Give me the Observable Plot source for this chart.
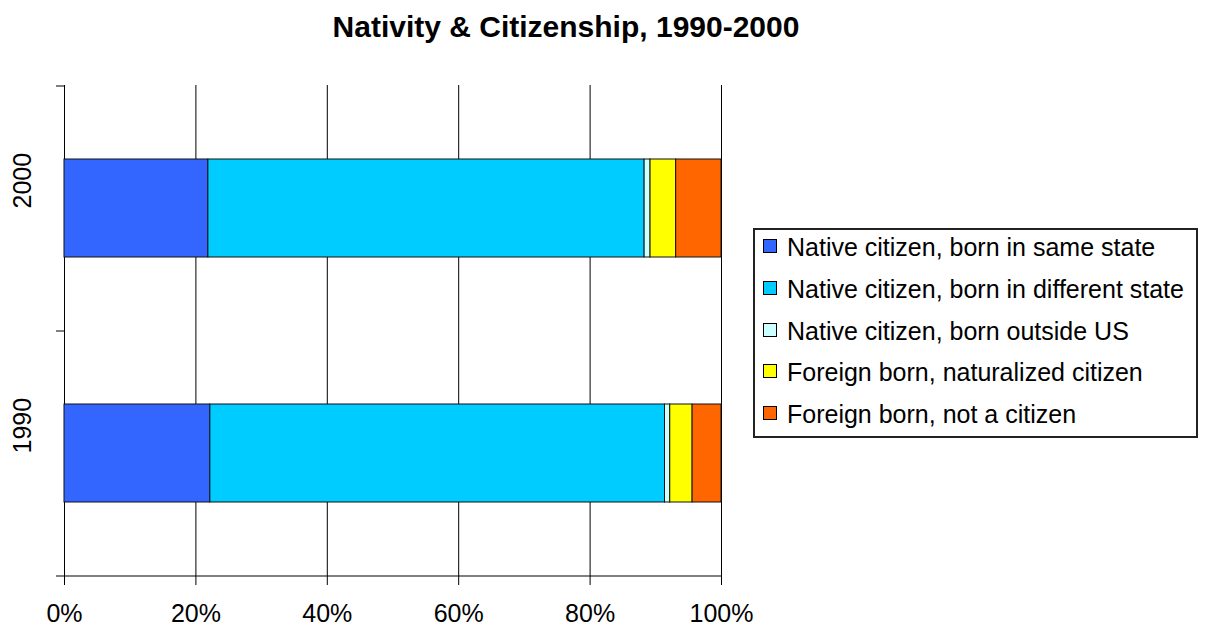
<!DOCTYPE html>
<html>
<head>
<meta charset="utf-8">
<script src="https://cdn.jsdelivr.net/npm/d3@7"></script>
<script src="https://cdn.jsdelivr.net/npm/@observablehq/plot@0.6"></script>
<style>
  body { margin: 0; background: #fff; }
  #wrap { position: relative; width: 1213px; height: 629px; overflow: hidden; font-family: "Liberation Sans", Arial, sans-serif; color: #000; }
  #title { position: absolute; left: 0; top: 12px; width: 1132px; text-align: center; font-weight: bold; font-size: 30px; line-height: 30px; }
  #chart { position: absolute; left: 0; top: 50px; }
  #legend { position: absolute; left: 753px; top: 228px; width: 445px; height: 210px; box-sizing: border-box; border: 2px solid #222; background: #fff; }
  .row { position: absolute; left: 0; height: 30px; line-height: 30px; font-size: 25px; white-space: nowrap; }
  .sw { position: absolute; left: 8px; top: 7px; width: 14px; height: 14px; box-sizing: border-box; border: 1px solid #000; }
  .lab { position: absolute; left: 32px; top: 0; }
</style>
</head>
<body>
<div id="wrap">
  <div id="title">Nativity &amp; Citizenship, 1990-2000</div>
  <div id="chart"></div>
  <div id="legend"></div>
</div>
<script>
// ---- data ----
const years = ["2000", "1990"]; // top to bottom
const categories = [
  "Native citizen, born in same state",
  "Native citizen, born in different state",
  "Native citizen, born outside US",
  "Foreign born, naturalized citizen",
  "Foreign born, not a citizen"
];
const colors = ["#3366FF", "#00CCFF", "#CCFFFF", "#FFFF00", "#FF6600"];
const values1990 = [22.2, 69.2, 0.8, 3.4, 4.4];
const values2000 = [21.9, 66.4, 0.9, 3.9, 6.9];
const xTicks = [0, 20, 40, 60, 80, 100];

// ---- table ----
const valuesByYear = {"1990": values1990, "2000": values2000};
const rows = [];
for (const y of years) categories.forEach((c, i) => rows.push({year: y, category: c, value: valuesByYear[y][i]}));

// ---- layout ----
const W = 1213, H = 579;
const mL = 64, mR = 492, mT = 35, mB = 54;
const padIn = 0.6, padOut = 0.3;
const innerH = H - mT - mB, innerW = W - mL - mR;
const step = innerH / (years.length - padIn + 2 * padOut);
const tickLenPct = 8 / innerW * 100;

const chart = Plot.plot({
  width: W, height: H,
  marginLeft: mL, marginRight: mR, marginTop: mT, marginBottom: mB,
  style: {fontFamily: "Liberation Sans, Arial, sans-serif", fontSize: "25px", color: "#000", background: "transparent"},
  x: {domain: [0, 100], ticks: xTicks, tickFormat: d => d + "%", tickSize: 10, tickPadding: 19, label: null},
  y: {type: "band", domain: years, paddingInner: padIn, paddingOuter: padOut, axis: null},
  color: {domain: categories, range: colors},
  marks: [
    Plot.ruleX(xTicks, {stroke: "#000", strokeWidth: 1}),
    Plot.barX(rows, Plot.stackX({x: "value", y: "year", fill: "category", order: categories, stroke: "#111", strokeWidth: 1})),
    Plot.ruleY(years, {x1: -tickLenPct, x2: 0, dy: -step / 2, stroke: "#000"}),
    Plot.ruleY(years.slice(-1), {x1: -tickLenPct, x2: 100, dy: step / 2, stroke: "#000"}),
    Plot.text(years, {y: d => d, text: d => d, frameAnchor: "left", dx: -42, rotate: -90, fontSize: 25, fill: "#000"})
  ]
});
document.getElementById("chart").appendChild(chart);

// ---- legend ----
const leg = document.getElementById("legend");
categories.forEach((c, i) => {
  const row = document.createElement("div");
  row.className = "row";
  row.style.top = (17 + 41.75 * i - 15) + "px";
  const sw = document.createElement("div");
  sw.className = "sw";
  sw.style.background = colors[i];
  const lab = document.createElement("div");
  lab.className = "lab";
  lab.textContent = c;
  row.appendChild(sw); row.appendChild(lab);
  leg.appendChild(row);
});
</script>
</body>
</html>
